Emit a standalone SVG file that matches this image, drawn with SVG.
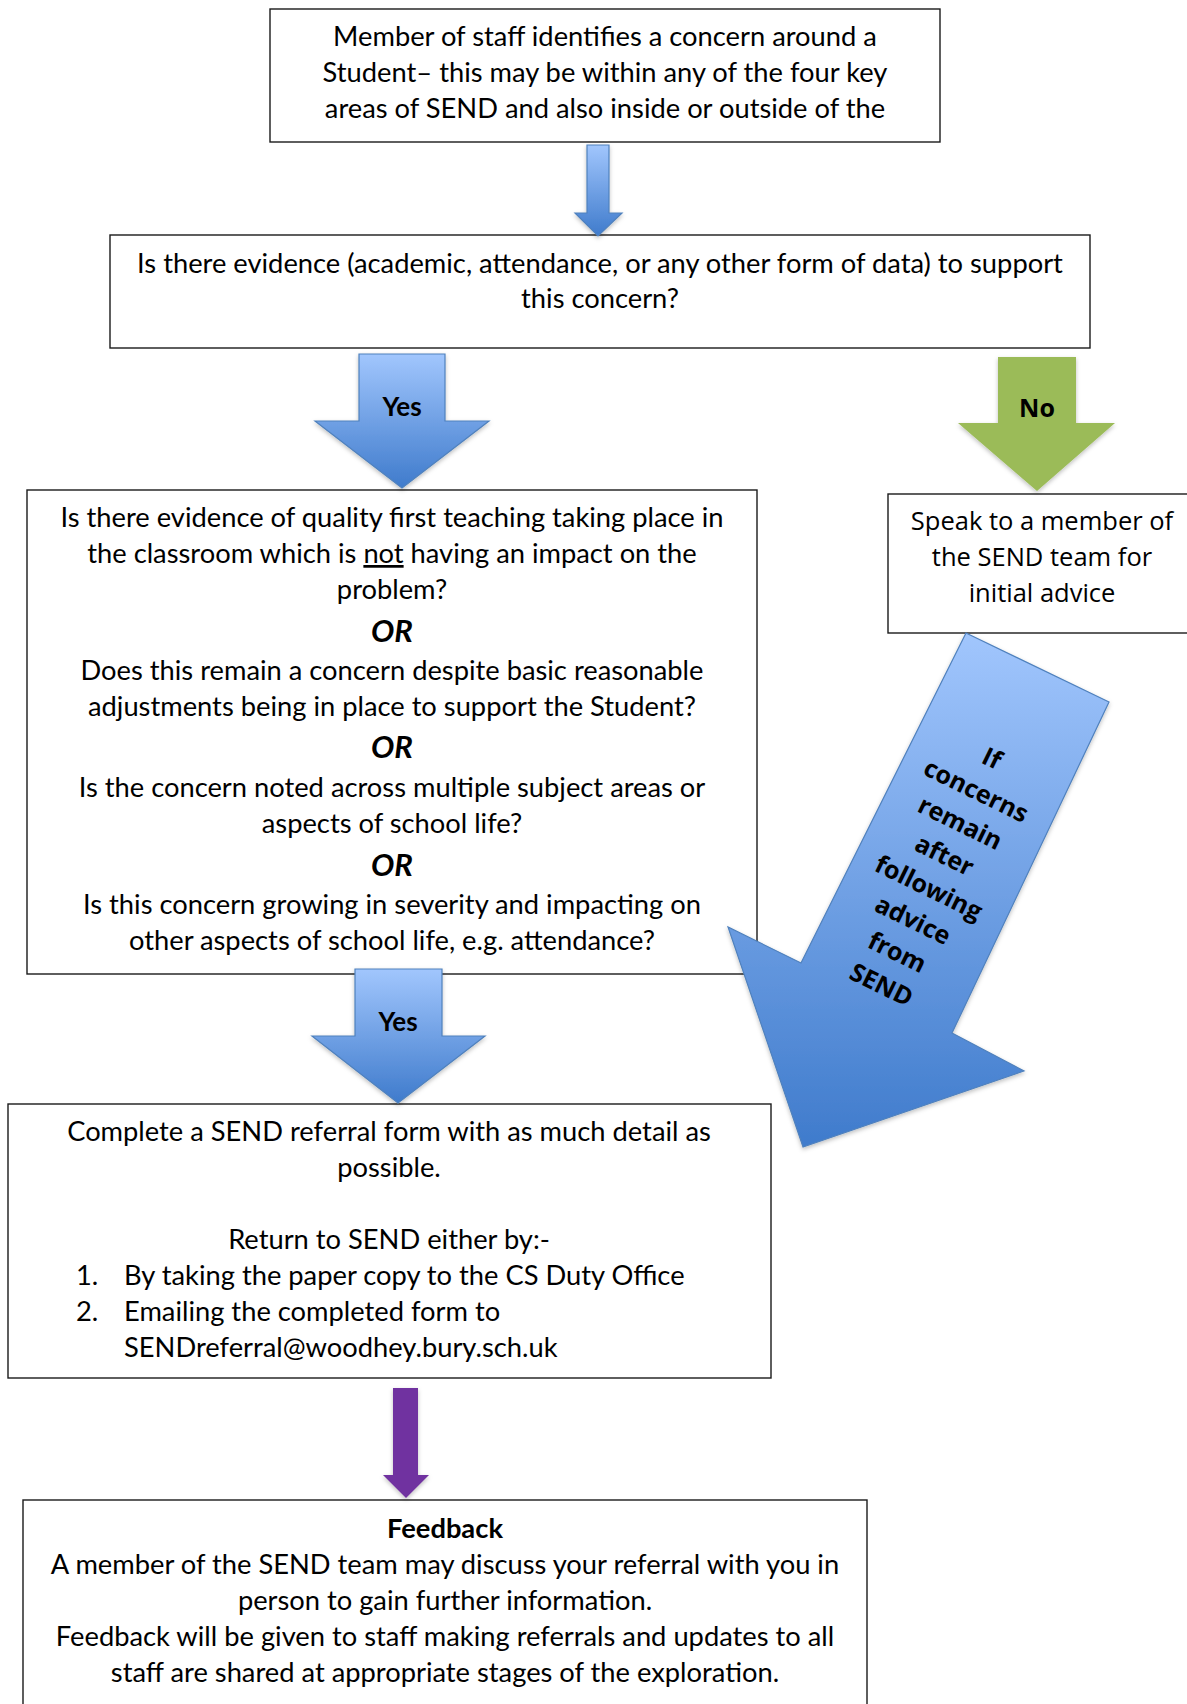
<svg xmlns="http://www.w3.org/2000/svg" width="1187" height="1704" viewBox="0 0 1187 1704">
<style>
.box{fill:#fff;stroke:#1a1a1a;stroke-width:1.4}
.t{font-family:Lato,"Liberation Sans",sans-serif;font-size:27.3px;fill:#000;text-anchor:middle}
.ts{font-family:Lato,"Liberation Sans",sans-serif;font-size:27.3px;fill:#000;text-anchor:start}
.os{font-family:"Open Sans","Liberation Sans",sans-serif;font-size:25.5px;fill:#000;text-anchor:middle}
.or{font-family:Lato,"Liberation Sans",sans-serif;font-size:31px;font-weight:bold;font-style:italic;fill:#000;text-anchor:middle}
.lbl{font-family:Lato,"Liberation Sans",sans-serif;font-size:26px;font-weight:bold;fill:#000;text-anchor:middle}
.rot{font-family:"Open Sans","Liberation Sans",sans-serif;font-size:25px;font-weight:bold;fill:#000;text-anchor:middle}
.blue{fill:url(#bg);stroke:#4f81bd;stroke-width:1.2;filter:url(#sh)}
</style>
<defs>
<linearGradient id="bg" x1="0" y1="0" x2="0" y2="1">
<stop offset="0" stop-color="#a1c6fd"/>
<stop offset="1" stop-color="#3f7bcc"/>
</linearGradient>
<filter id="sh" x="-20%" y="-20%" width="140%" height="140%">
<feDropShadow dx="0" dy="2" stdDeviation="2" flood-color="#000" flood-opacity="0.25"/>
</filter>
</defs>
<rect width="1187" height="1704" fill="#fff"/>

<g id="node-concern">
<rect class="box" x="270" y="9" width="670" height="133"/>
<text class="t" x="605" y="46">Member of staff identifies a concern around a</text>
<text class="t" x="605" y="82">Student– this may be within any of the four key</text>
<text class="t" x="605" y="118">areas of SEND and also inside or outside of the</text>
</g>

<g id="node-evidence">
<rect class="box" x="110" y="235" width="980" height="113"/>
<text class="t" x="600" y="273">Is there evidence (academic, attendance, or any other form of data) to support</text>
<text class="t" x="600" y="308">this concern?</text>
</g>

<g id="node-questions">
<rect class="box" x="27" y="490" width="730" height="484"/>
<text class="t" x="392" y="527">Is there evidence of quality first teaching taking place in</text>
<text class="t" x="392" y="563">the classroom which is <tspan text-decoration="underline">not</tspan> having an impact on the</text>
<text class="t" x="392" y="599">problem?</text>
<text class="or" x="392" y="642">OR</text>
<text class="t" x="392" y="680">Does this remain a concern despite basic reasonable</text>
<text class="t" x="392" y="716">adjustments being in place to support the Student?</text>
<text class="or" x="392" y="758">OR</text>
<text class="t" x="392" y="797">Is the concern noted across multiple subject areas or</text>
<text class="t" x="392" y="833">aspects of school life?</text>
<text class="or" x="392" y="876">OR</text>
<text class="t" x="392" y="914">Is this concern growing in severity and impacting on</text>
<text class="t" x="392" y="950">other aspects of school life, e.g. attendance?</text>
</g>

<g id="node-speak">
<rect class="box" x="888" y="494" width="320" height="139"/>
<text class="os" x="1042" y="530">Speak to a member of</text>
<text class="os" x="1042" y="566">the SEND team for</text>
<text class="os" x="1042" y="602">initial advice</text>
</g>

<g id="node-referral">
<rect class="box" x="8" y="1104" width="763" height="274"/>
<text class="t" x="389" y="1141">Complete a SEND referral form with as much detail as</text>
<text class="t" x="389" y="1177">possible.</text>
<text class="t" x="389" y="1249">Return to SEND either by:-</text>
<text class="ts" x="76" y="1285">1.</text>
<text class="ts" x="124" y="1285">By taking the paper copy to the CS Duty Office</text>
<text class="ts" x="76" y="1321">2.</text>
<text class="ts" x="124" y="1321">Emailing the completed form to</text>
<text class="ts" x="124" y="1357">SENDreferral@woodhey.bury.sch.uk</text>
</g>

<g id="node-feedback">
<rect class="box" x="23" y="1500" width="844" height="230"/>
<text class="t" x="445" y="1538" font-weight="bold">Feedback</text>
<text class="t" x="445" y="1574">A member of the SEND team may discuss your referral with you in</text>
<text class="t" x="445" y="1610">person to gain further information.</text>
<text class="t" x="445" y="1646">Feedback will be given to staff making referrals and updates to all</text>
<text class="t" x="445" y="1682">staff are shared at appropriate stages of the exploration.</text>
</g>

<g id="connectors">
<polygon class="blue" points="587,145 609,145 609,213 622,213 598,236 575,213 587,213"/>
<polygon class="blue" points="359,354 445,354 445,421 489,421 402,488 315,421 359,421"/>
<text class="lbl" x="402" y="416">Yes</text>
<polygon fill="#9bbb59" filter="url(#sh)" points="998,357 1076,357 1076,423 1115,423 1037,491 958,423 998,423"/>
<text class="rot" x="1037" y="417">No</text>
<polygon class="blue" points="966,633 1109,702 952,1033 1024,1071 803,1147 728,927 801,963"/>
<g transform="translate(992,758) rotate(26)">
<text class="rot" x="0" y="9">If</text>
<text class="rot" x="0" y="45">concerns</text>
<text class="rot" x="0" y="81">remain</text>
<text class="rot" x="0" y="117">after</text>
<text class="rot" x="0" y="153">following</text>
<text class="rot" x="0" y="189">advice</text>
<text class="rot" x="0" y="225">from</text>
<text class="rot" x="0" y="261">SEND</text>
</g>
<polygon class="blue" points="355,969 442,969 442,1036 485,1036 398,1103 312,1036 355,1036"/>
<text class="lbl" x="398" y="1031">Yes</text>
<polygon fill="#7030a0" filter="url(#sh)" points="393,1388 418,1388 418,1475 429,1475 406,1498 383,1475 393,1475"/>
</g>
</svg>
